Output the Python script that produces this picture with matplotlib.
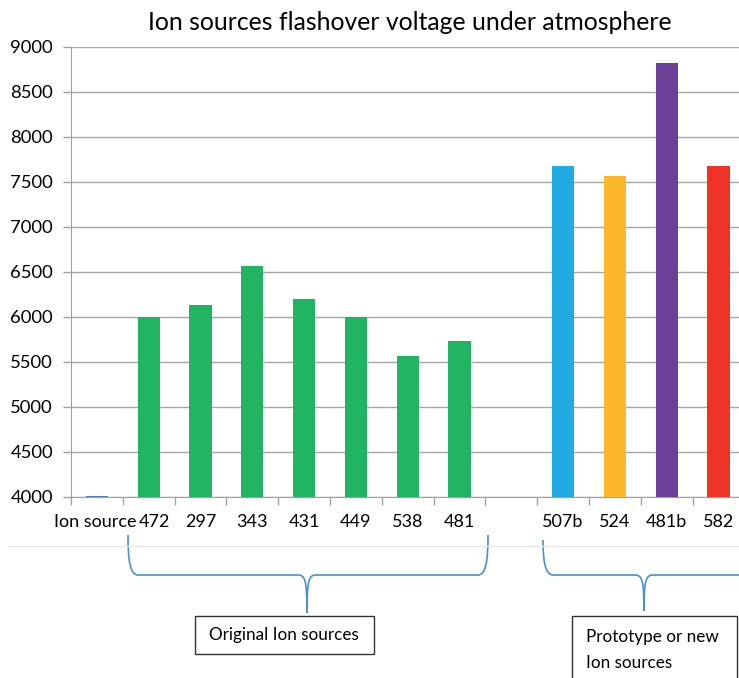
import matplotlib
matplotlib.use("Agg")
import matplotlib.pyplot as plt
from matplotlib.path import Path
from matplotlib.patches import PathPatch, Rectangle
from matplotlib.lines import Line2D
from matplotlib.transforms import ScaledTranslation
import numpy as np

# ============================================================
# Data
# ============================================================
categories = ["Ion source", "472", "297", "343", "431", "449", "538", "481",
              "", "507b", "524", "481b", "582"]
voltages = [4010, 6000, 6130, 6565, 6205, 6000, 5565, 5735,
            4000, 7680, 7565, 8820, 7680]
bar_colors = ["#4A7EC7", "#21B463", "#21B463", "#21B463", "#21B463", "#21B463",
              "#21B463", "#21B463", "#FFFFFF", "#21ABE2", "#FDB72B", "#6C3F99",
              "#EE3326"]
y_ticks = [4000, 4500, 5000, 5500, 6000, 6500, 7000, 7500, 8000, 8500, 9000]
base = 4000

W, H = 739, 678
plt.rcParams["font.family"] = ["Lato", "DejaVu Sans"]

fig = plt.figure(figsize=(W / 100, H / 100), dpi=100)
fig.patch.set_facecolor("white")

# axes placed in pixel units (top-left origin)
left_px, top_px, bottom_px, step_px = 71, 47, 497, 51.8
ax = fig.add_axes([left_px / W, 1 - bottom_px / H,
                   step_px * len(categories) / W, (bottom_px - top_px) / H])

x = np.arange(len(categories))
heights = [v - base for v in voltages]
ax.bar(x, heights, bottom=base, width=0.43, color=bar_colors, zorder=3)

ax.set_xlim(-0.5, len(categories) - 0.5)
ax.set_ylim(4000, 9000)
ax.set_yticks(y_ticks)
ax.set_yticklabels([str(t) for t in y_ticks], fontsize=13.3)
ax.set_xticks(x)
ax.set_xticklabels(categories, fontsize=13)
ax.set_xticks(np.arange(len(categories) + 1) - 0.5, minor=True)

ax.tick_params(axis="x", which="major", length=0, pad=12)
ax.tick_params(axis="x", which="minor", length=6, color="#A0A0A0", width=1)
ax.tick_params(axis="y", length=6, color="#A0A0A0", width=1, pad=7)

# Excel nudged the first numeric label to the right of the long one
lbls = ax.get_xticklabels()
lbls[0].set_transform(lbls[0].get_transform() +
                      ScaledTranslation(-2 / 100, 0, fig.dpi_scale_trans))
lbls[1].set_transform(lbls[1].get_transform() +
                      ScaledTranslation(6 / 100, 0, fig.dpi_scale_trans))

ax.grid(axis="y", color="#A6A6A6", linewidth=1, zorder=0)
for s in ["top", "right"]:
    ax.spines[s].set_visible(False)
ax.spines["left"].set_color("#A0A0A0")
ax.spines["bottom"].set_color("#A0A0A0")

fig.text(410 / W, 1 - 22 / H,
         "Ion sources flashover voltage under atmosphere",
         ha="center", va="center", fontsize=17.8)


# ============================================================
# Annotation layer (pixel coordinates, top-left origin)
# ============================================================
def fx(px):
    return px / W


def fy(py):
    return 1 - py / H


def brace(x0, x1, xm, y_top, y_mid, y_tip, color="#4A90D0"):
    verts = [(x0, y_top), (x0, y_mid - 15), (x0 + 2, y_mid), (x0 + 10, y_mid),
             (xm - 9, y_mid),
             (xm - 2, y_mid), (xm, y_mid + 5), (xm, y_tip),
             (xm, y_mid + 5), (xm + 2, y_mid), (xm + 9, y_mid),
             (x1 - 10, y_mid),
             (x1 - 2, y_mid), (x1, y_mid - 15), (x1, y_top)]
    verts = [(fx(a), fy(b)) for a, b in verts]
    codes = [Path.MOVETO, Path.CURVE4, Path.CURVE4, Path.CURVE4,
             Path.LINETO,
             Path.CURVE4, Path.CURVE4, Path.CURVE4,
             Path.CURVE4, Path.CURVE4, Path.CURVE4,
             Path.LINETO,
             Path.CURVE4, Path.CURVE4, Path.CURVE4]
    patch = PathPatch(Path(verts, codes), facecolor="none", edgecolor=color,
                      linewidth=1.2, transform=fig.transFigure)
    fig.add_artist(patch)


# light separator line below the chart area
fig.add_artist(Line2D([fx(8), fx(739)], [fy(546), fy(546)],
                      color="#E6E6E6", linewidth=1, transform=fig.transFigure))

brace(128, 488, 307, 535, 575, 613)
brace(543, 870, 644, 540, 575, 611)

# boxes
fig.add_artist(Rectangle((fx(195), fy(654)), fx(374) - fx(195), fy(616) - fy(654),
                         facecolor="white", edgecolor="#333333", linewidth=1,
                         transform=fig.transFigure))
fig.text(fx(284), fy(635), "Original Ion sources", ha="center", va="center",
         fontsize=12.3)

fig.add_artist(Rectangle((fx(572), fy(700)), fx(737) - fx(572), fy(616) - fy(700),
                         facecolor="white", edgecolor="#333333", linewidth=1,
                         transform=fig.transFigure))
fig.text(fx(586), fy(637), "Prototype or new", ha="left", va="center",
         fontsize=12.3)
fig.text(fx(586), fy(663), "Ion sources", ha="left", va="center",
         fontsize=12.3)

fig.savefig("out.png", dpi=100, facecolor="white")
